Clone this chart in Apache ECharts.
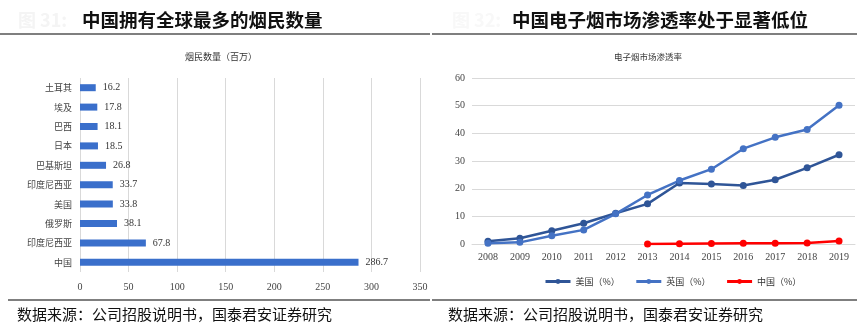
<!DOCTYPE html>
<html>
<head>
<meta charset="utf-8">
<script src="https://cdn.jsdelivr.net/npm/echarts@6/dist/echarts.min.js"></script>
<style>
  html, body { margin: 0; padding: 0; background: #fff; }
  #chart { width: 864px; height: 333px; }
</style>
</head>
<body>
<div id="chart"></div>
<script>
// Smoker population by country (millions), top to bottom
const smokerCountries = ['土耳其', '埃及', '巴西', '日本', '巴基斯坦', '印度尼西亚', '美国', '俄罗斯', '印度尼西亚', '中国'];
const smokerCounts = [16.2, 17.8, 18.1, 18.5, 26.8, 33.7, 33.8, 38.1, 67.8, 286.7];
const smokerTicks = [0, 50, 100, 150, 200, 250, 300, 350];

// E-cigarette market penetration (%)
const years = ['2008', '2009', '2010', '2011', '2012', '2013', '2014', '2015', '2016', '2017', '2018', '2019'];
const usRate = [1.1, 2.2, 4.9, 7.6, 11.2, 14.6, 22.1, 21.8, 21.2, 23.3, 27.6, 32.3];
const ukRate = [0.4, 0.7, 3.1, 5.2, 11.0, 17.8, 23.0, 27.1, 34.5, 38.6, 41.4, 50.2];
const cnRate = [null, null, null, null, null, 0.1, 0.2, 0.3, 0.4, 0.4, 0.5, 1.2];
const rateTicks = [0, 10, 20, 30, 40, 50, 60];

const seriesNames = ['美国（%）', '英国（%）', '中国（%）'];
const seriesColors = ['#2f5597', '#4472c4', '#ff0000'];

const serif = '"Liberation Serif", "Noto Sans CJK SC", serif';
const cjk = '"Noto Sans CJK SC", sans-serif';

const chart = echarts.init(document.getElementById('chart'), null, { renderer: 'canvas' });

function rule(x1, x2, y) {
  return { type: 'line', shape: { x1: x1, y1: y, x2: x2, y2: y }, style: { stroke: '#7f7f7f', lineWidth: 2 }, silent: true };
}
function text(x, y, str, size, weight, color, align) {
  return { type: 'text', x: x, y: y, style: { text: str, font: weight + ' ' + size + 'px ' + cjk, fill: color, textAlign: align || 'left', textVerticalAlign: 'middle' }, silent: true };
}

const lineSeries = [usRate, ukRate, cnRate].map(function (d, i) {
  return {
    name: seriesNames[i], type: 'line', xAxisIndex: 1, yAxisIndex: 1, data: d,
    symbol: 'circle', symbolSize: 7, connectNulls: false,
    lineStyle: { width: 2.5, color: seriesColors[i] },
    itemStyle: { color: seriesColors[i] }
  };
});

chart.setOption({
  animation: false,
  backgroundColor: '#fff',
  graphic: [
    text(18, 20, '图 31:', 18, 'bold', '#f4f4f4'),
    text(82, 20, '中国拥有全球最多的烟民数量', 18.5, 'bold', '#111'),
    text(452, 20, '图 32:', 18, 'bold', '#f8f8f8'),
    text(512, 20, '中国电子烟市场渗透率处于显著低位', 18.5, 'bold', '#111'),
    rule(0, 430, 34),
    rule(432, 857, 34),
    text(221, 57, '烟民数量（百万）', 9, 'normal', '#333', 'center'),
    text(648, 57, '电子烟市场渗透率', 8.5, 'normal', '#333', 'center'),
    rule(8, 430, 300),
    rule(432, 857, 300),
    text(17, 314, '数据来源：公司招股说明书，国泰君安证券研究', 15, 'normal', '#111'),
    text(448, 314, '数据来源：公司招股说明书，国泰君安证券研究', 15, 'normal', '#111')
  ],
  legend: {
    data: seriesNames,
    left: 539, top: 272,
    itemWidth: 25, itemHeight: 6, itemGap: 15,
    lineStyle: { width: 3 },
    textStyle: { fontFamily: cjk, fontSize: 9, color: '#333' }
  },
  grid: [
    { left: 80, top: 78, width: 340, height: 194, containLabel: false },
    { left: 472, top: 78, right: 9, height: 166.3, containLabel: false }
  ],
  xAxis: [
    {
      gridIndex: 0, type: 'value', min: smokerTicks[0], max: smokerTicks[smokerTicks.length - 1], interval: 50,
      axisLine: { show: false }, axisTick: { show: false },
      splitLine: { lineStyle: { color: '#d9d9d9', width: 1 } },
      axisLabel: { fontFamily: serif, fontSize: 10, color: '#444', margin: 10 }
    },
    {
      gridIndex: 1, type: 'category', data: years, boundaryGap: true,
      axisLine: { show: true, lineStyle: { color: '#d9d9d9' } }, axisTick: { show: false },
      axisLabel: { fontFamily: serif, fontSize: 10, color: '#444', margin: 8 }
    }
  ],
  yAxis: [
    {
      gridIndex: 0, type: 'category', data: smokerCountries, inverse: true,
      axisLine: { show: false }, axisTick: { show: false },
      axisLabel: { fontFamily: cjk, fontSize: 9, color: '#444', margin: 8 }
    },
    {
      gridIndex: 1, type: 'value', min: rateTicks[0], max: rateTicks[rateTicks.length - 1], interval: 10,
      axisLine: { show: false }, axisTick: { show: false },
      splitLine: { lineStyle: { color: '#d9d9d9', width: 1 } },
      axisLabel: { fontFamily: serif, fontSize: 10, color: '#444', margin: 7 }
    }
  ],
  series: [
    {
      type: 'bar', xAxisIndex: 0, yAxisIndex: 0, data: smokerCounts,
      barWidth: 7,
      itemStyle: { color: '#3a6fcb' },
      label: { show: true, position: 'right', distance: 7, fontFamily: serif, fontSize: 10, color: '#333' }
    }
  ].concat(lineSeries)
});
</script>
</body>
</html>
